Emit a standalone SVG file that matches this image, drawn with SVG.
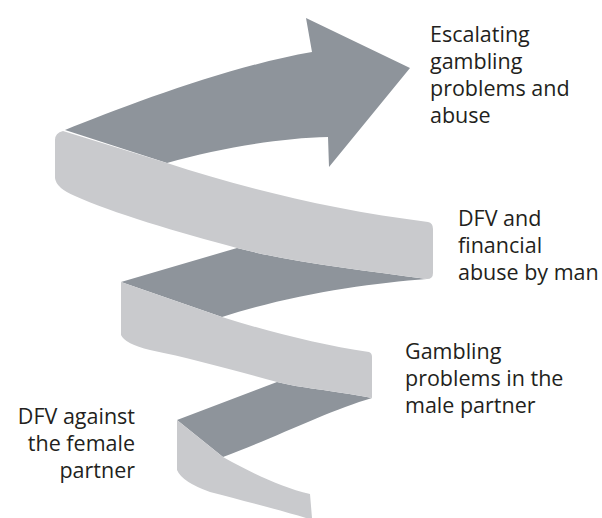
<svg xmlns="http://www.w3.org/2000/svg" width="602" height="518" viewBox="0 0 602 518">
<style>
.dark{fill:#8e949b}
.light{fill:#c9cacd}
.lbl{font-family:"Open Sans","Liberation Sans",sans-serif;font-size:21.5px;fill:#231f20}
</style>
<rect width="602" height="518" fill="#ffffff"/>
<g id="spiral-arrow">
<path class="dark" d="M65,130 C125,106 230,66 312,52 L306,18 L410,68 L329,167 L328,137 C280,138 220,148 167,163 Z"/>
<path class="dark" d="M237,248 C290,262 360,270 427,279 C370,283 290,295 222,317 L121,282 Z"/>
<path class="dark" d="M277,382 C300,388 330,390 372,398 C330,410 270,440 223,457 L177,420 Z"/>
<path class="light" d="M63,131 L167,163 C240,187 330,210 428,222 Q433,223 433,229 L433,273 Q433,279 427,279 C360,270 290,262 237,248 C180,233 110,212 75,196 Q56,188 55,178 L55,140 Q55,133 63,131 Z"/>
<path class="light" d="M121,282 L222,317 C270,332 320,345 369,352 Q372,353 372,357 L372,398 C330,390 300,388 277,382 C240,372 190,358 150,350 Q125,344 121,335 Z"/>
<path class="light" d="M177,420 L223,457 C250,472 280,487 310,494 L312,518 L306,518 C280,510 240,500 210,492 Q182,482 177,470 Z"/>
</g>
<g id="label-escalating" class="lbl">
<text x="430" y="42">Escalating</text>
<text x="430" y="69">gambling</text>
<text x="430" y="96">problems and</text>
<text x="430" y="123">abuse</text>
</g>
<g id="label-dfv-financial" class="lbl">
<text x="458" y="226">DFV and</text>
<text x="458" y="253">financial</text>
<text x="458" y="280">abuse by man</text>
</g>
<g id="label-gambling" class="lbl">
<text x="405" y="359">Gambling</text>
<text x="405" y="386">problems in the</text>
<text x="405" y="413">male partner</text>
</g>
<g id="label-dfv-female" class="lbl" text-anchor="end">
<text x="135" y="424">DFV against</text>
<text x="135" y="451">the female</text>
<text x="135" y="478">partner</text>
</g>
</svg>
